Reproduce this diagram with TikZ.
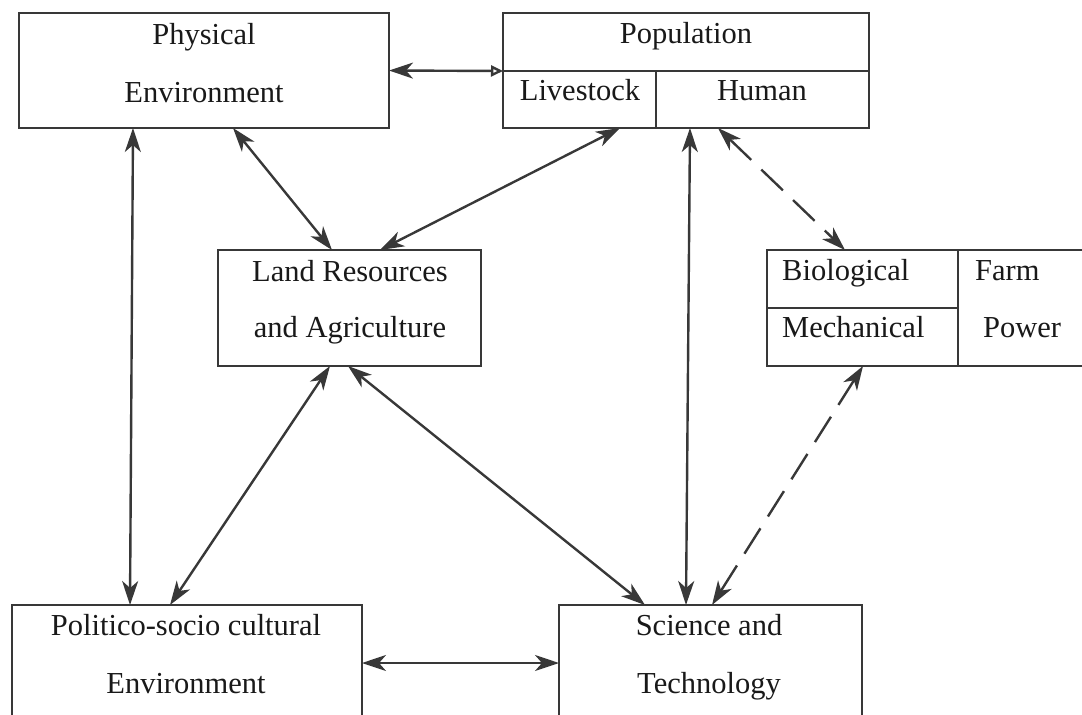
\documentclass[tikz,border=0pt]{standalone}
\usepackage{fontspec}
\setmainfont{Liberation Serif}
\usetikzlibrary{arrows.meta}

\begin{document}
\begin{tikzpicture}[x=1pt, y=-1pt,
		bigbox/.style={rectangle, draw=black!78, line width=2.4pt, inner sep=0pt, outer sep=0pt},
		boxtext/.style={anchor=base, inner sep=0pt, text=black!90, font=\fontsize{30.5}{36}\selectfont},
		link/.style={draw=black!78, line width=2.4pt, <->},
		dashlink/.style={link, dash pattern=on 30pt off 14pt},
		>={Stealth[length=24pt,width=16pt,inset=7pt]}
		]
	\useasboundingbox (0,0) rectangle (1082,715);
	\clip (0,0) rectangle (1082,715);

	\node[bigbox, minimum width=370pt, minimum height=115pt](PE) at (204,70.5){};
	\node[bigbox, minimum width=366pt, minimum height=58pt](Pop) at (686,42){};
	\node[bigbox, minimum width=153pt, minimum height=57pt](LS) at (579.5,99.5){};
	\node[bigbox, minimum width=213pt, minimum height=57pt](HU) at (762.5,99.5){};
	\node[bigbox, minimum width=263pt, minimum height=116pt](LR) at (349.5,308){};
	\node[bigbox, minimum width=191pt, minimum height=58pt](BI) at (862.5,279){};
	\node[bigbox, minimum width=191pt, minimum height=58pt](ME) at (862.5,337){};
	\node[bigbox, minimum width=142pt, minimum height=116pt](FP) at (1029,308){};
	\node[bigbox, minimum width=350pt, minimum height=155pt](PS) at (187,682.5){};
	\node[bigbox, minimum width=303pt, minimum height=155pt](ST) at (710.5,682.5){};

	\node[boxtext](PEa) at (204,44){Physical};
	\node[boxtext](PEb) at (204,102){Environment};
	\node[boxtext](PopT) at (686,43){Population};
	\node[boxtext](LSt) at (580,100){Livestock};
	\node[boxtext](HUt) at (762,100){Human};
	\node[boxtext](LRa) at (350,281){Land Resources};
	\node[boxtext](LRb) at (350,337){and Agriculture};
	\node[boxtext, anchor=base west](BIt) at (782,280){Biological};
	\node[boxtext, anchor=base west](MEt) at (782,337){Mechanical};
	\node[boxtext, anchor=base west](FPa) at (975,280){Farm};
	\node[boxtext, anchor=base west](FPb) at (983,337){Power};
	\node[boxtext](PSa) at (186,635){Politico-socio cultural};
	\node[boxtext](PSb) at (186,693){Environment};
	\node[boxtext](STa) at (709,635){Science and};
	\node[boxtext](STb) at (709,693){Technology};

	\draw[link, <-{Triangle[open,length=12pt,width=11pt]}] (PE.east) -- (Pop.south west);
	\draw[link] ([xshift=114pt]PE.south west) -- ([xshift=118pt]PS.north west);
	\draw[link] ([xshift=214pt]PE.south west) -- ([xshift=114pt]LR.north west);
	\draw[link] ([xshift=117pt]LS.south west) -- ([xshift=162pt]LR.north west);
	\draw[link] ([xshift=34pt]HU.south west) -- ([xshift=127pt]ST.north west);
	\draw[dashlink] ([xshift=62pt]HU.south west) -- ([xshift=78pt]BI.north west);
	\draw[link] ([xshift=112pt]LR.south west) -- ([xshift=158pt]PS.north west);
	\draw[link] ([xshift=130pt]LR.south west) -- ([xshift=86pt]ST.north west);
	\draw[dashlink] ([xshift=96pt]ME.south west) -- ([xshift=153pt]ST.north west);
	\draw[link] ([yshift=-58pt]PS.north east) -- ([yshift=-58pt]ST.north west);
\end{tikzpicture}
\end{document}
